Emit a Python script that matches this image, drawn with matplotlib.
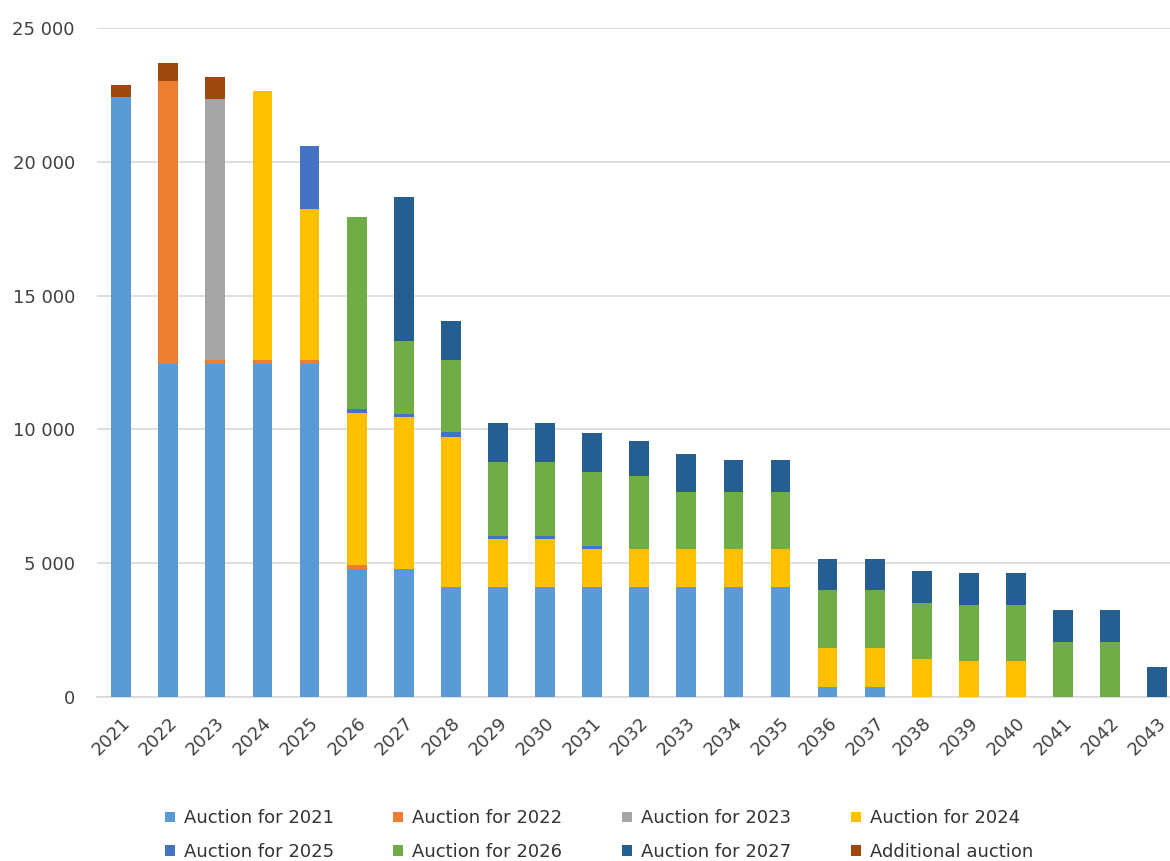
import matplotlib
matplotlib.use('Agg')
import matplotlib.pyplot as plt
import numpy as np

plt.rcParams['font.family'] = ['DejaVu Sans']

years = [str(y) for y in range(2021, 2044)]

# values, one list per auction
auc2021 = [22430, 12440, 12440, 12440, 12440, 4780, 4780, 4120, 4120, 4120, 4120, 4120,
           4120, 4120, 4120, 380, 380, 0, 0, 0, 0, 0, 0]
auc2022 = [0, 10590, 150, 150, 150, 150, 0, 0, 0, 0, 0, 0,
           0, 0, 0, 0, 0, 0, 0, 0, 0, 0, 0]
auc2023 = [0, 0, 9770, 0, 0, 0, 0, 0, 0, 0, 0, 0,
           0, 0, 0, 0, 0, 0, 0, 0, 0, 0, 0]
auc2024 = [0, 0, 0, 10070, 5660, 5670, 5670, 5610, 1770, 1770, 1400, 1400,
           1400, 1400, 1400, 1460, 1460, 1410, 1330, 1330, 0, 0, 0]
auc2025 = [0, 0, 0, 0, 2350, 150, 140, 180, 140, 140, 130, 0,
           0, 0, 0, 0, 0, 0, 0, 0, 0, 0, 0]
auc2026 = [0, 0, 0, 0, 0, 7190, 2720, 2670, 2740, 2740, 2750, 2730,
           2130, 2130, 2130, 2140, 2140, 2110, 2120, 2120, 2060, 2060, 0]
auc2027 = [0, 0, 0, 0, 0, 0, 5370, 1480, 1460, 1460, 1470, 1330,
           1420, 1190, 1190, 1170, 1170, 1190, 1190, 1190, 1180, 1180, 1110]
additional = [440, 670, 820, 0, 0, 0, 0, 0, 0, 0, 0, 0,
              0, 0, 0, 0, 0, 0, 0, 0, 0, 0, 0]

series = [auc2021, auc2022, auc2023, auc2024, auc2025, auc2026, auc2027, additional]
names = ['Auction for 2021', 'Auction for 2022', 'Auction for 2023', 'Auction for 2024',
         'Auction for 2025', 'Auction for 2026', 'Auction for 2027', 'Additional auction']
colors = ['#5B9BD5', '#ED7D31', '#A5A5A5', '#FFC000', '#4472C4', '#70AD47', '#255E91', '#9E480E']

fig = plt.figure(figsize=(11.7, 8.61), dpi=100)
ax = fig.add_axes([0.083, 0.1905, 0.917, 0.777])

x = np.arange(len(years))
bottom = np.zeros(len(years))
handles = []
for vals, name, col in zip(series, names, colors):
    vals = np.array(vals, dtype=float)
    b = ax.bar(x, vals, 0.42, bottom=bottom, color=col, label=name, zorder=3,
               edgecolor='none')
    handles.append(b)
    bottom += vals

ax.set_ylim(0, 25000)
ax.set_xlim(-0.51, 22.27)
ax.set_yticks(np.arange(0, 25001, 5000))
ax.set_yticklabels([f'{v:,}'.replace(',', ' ') for v in range(0, 25001, 5000)])
ax.yaxis.grid(True, color='#D9D9D9', linewidth=1.2, zorder=0)
ax.tick_params(axis='y', length=0, pad=16, labelsize=13, labelcolor='#404040')
ax.tick_params(axis='x', length=0, pad=12, labelsize=13, labelcolor='#404040')
ax.set_xticks(x)
ax.set_xticklabels(years, rotation=45, ha='right', rotation_mode='anchor')
for s in ['top', 'right', 'left']:
    ax.spines[s].set_visible(False)
ax.spines['bottom'].set_color('#D9D9D9')
ax.spines['bottom'].set_linewidth(1.2)

# legend is filled row by row in the reference
order = [0, 4, 1, 5, 2, 6, 3, 7]
ax.legend([handles[i] for i in order], [names[i] for i in order],
          loc='upper left', bbox_to_anchor=(0.063, -0.168), ncol=4, frameon=False,
          fontsize=13, handlelength=0.55, handleheight=0.55, handletextpad=0.5,
          columnspacing=3.3, labelspacing=0.85, labelcolor='#333333',
          borderaxespad=0, borderpad=0)

fig.savefig('out.png', dpi=100)
